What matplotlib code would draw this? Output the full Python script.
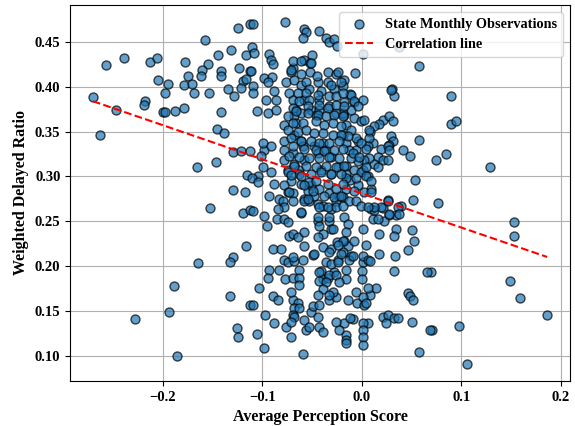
import numpy as np
import matplotlib
matplotlib.use("Agg")
import matplotlib.pyplot as plt

plt.rcParams['font.family'] = 'serif'
plt.rcParams['font.serif'] = ['Liberation Serif', 'DejaVu Serif']
plt.rcParams['font.weight'] = 'bold'

# (perception score, delayed ratio), grouped by region
left_sparse = [
    (-0.124, 0.465), (-0.112, 0.470), (-0.157, 0.452), (-0.131, 0.441), (-0.144, 0.435),
    (-0.116, 0.435), (-0.257, 0.424), (-0.239, 0.432), (-0.213, 0.428), (-0.206, 0.432),
    (-0.178, 0.428), (-0.154, 0.425), (-0.160, 0.419), (-0.174, 0.412), (-0.161, 0.412),
    (-0.141, 0.418), (-0.141, 0.412), (-0.123, 0.421), (-0.112, 0.418), (-0.119, 0.406),
    (-0.116, 0.409), (-0.205, 0.407), (-0.195, 0.403), (-0.179, 0.402), (-0.170, 0.403),
    (-0.198, 0.393), (-0.168, 0.393), (-0.153, 0.393), (-0.134, 0.398), (-0.128, 0.390),
    (-0.121, 0.399), (-0.270, 0.389), (-0.218, 0.384), (-0.219, 0.380), (-0.247, 0.374),
    (-0.200, 0.372), (-0.198, 0.372), (-0.188, 0.373), (-0.179, 0.376), (-0.141, 0.372),
    (-0.263, 0.346), (-0.145, 0.353), (-0.138, 0.348), (-0.129, 0.327), (-0.121, 0.328),
    (-0.165, 0.311), (-0.146, 0.316), (-0.115, 0.301), (-0.129, 0.285), (-0.117, 0.283),
    (-0.152, 0.265), (-0.119, 0.259), (-0.112, 0.263), (-0.116, 0.222), (-0.129, 0.210),
    (-0.132, 0.204), (-0.164, 0.203), (-0.189, 0.178), (-0.132, 0.167), (-0.112, 0.156),
    (-0.194, 0.149), (-0.228, 0.141), (-0.125, 0.131), (-0.124, 0.121), (-0.186, 0.100),
]

right_sparse = [
    (0.090, 0.390), (0.090, 0.358), (0.095, 0.362), (0.074, 0.318), (0.084, 0.325),
    (0.129, 0.311), (0.076, 0.270), (0.153, 0.249), (0.153, 0.234), (0.149, 0.183),
    (0.159, 0.164), (0.186, 0.145), (0.098, 0.133), (0.070, 0.129), (0.106, 0.091),
    (0.069, 0.193), (0.037, 0.444), (0.001, 0.436), (0.057, 0.423), (0.030, 0.397),
    (0.032, 0.390), (0.057, 0.341), (0.041, 0.329), (0.048, 0.323), (0.032, 0.298),
    (0.053, 0.296), (0.051, 0.274), (0.039, 0.267), (0.034, 0.257), (0.027, 0.257),
    (0.021, 0.265), (0.026, 0.274), (0.022, 0.250), (0.034, 0.241), (0.032, 0.233),
    (0.050, 0.240), (0.052, 0.228), (0.017, 0.236), (0.017, 0.213), (0.033, 0.211),
    (0.046, 0.218), (0.032, 0.195), (0.065, 0.193), (0.014, 0.175), (0.008, 0.168),
    (0.046, 0.170), (0.048, 0.167), (0.051, 0.162), (0.021, 0.143), (0.026, 0.145),
    (0.024, 0.136), (0.032, 0.142), (0.036, 0.142), (0.050, 0.138), (0.068, 0.129),
    (0.057, 0.104), (0.029, 0.345), (0.031, 0.340), (0.027, 0.335), (0.021, 0.363),
    (0.027, 0.367), (0.031, 0.362), (0.017, 0.358), (0.012, 0.356), (0.008, 0.350),
    (0.019, 0.331), (0.026, 0.334), (0.016, 0.322), (0.021, 0.318), (0.012, 0.314),
    (0.026, 0.318), (0.027, 0.329), (0.011, 0.337), (0.016, 0.311), (0.007, 0.320),
    (0.009, 0.264), (0.011, 0.252), (0.016, 0.252), (0.012, 0.263), (0.029, 0.396),
    (0.036, 0.266), (0.037, 0.258), (0.027, 0.258), (0.019, 0.266), (0.026, 0.273),
    (0.012, 0.266),
]

center_column = [
    (-0.007, 0.415), (-0.018, 0.407), (-0.019, 0.401), (-0.012, 0.392), (-0.008, 0.383),
    (-0.018, 0.383), (0.001, 0.385), (-0.018, 0.368), (-0.008, 0.365), (-0.001, 0.362),
    (0.002, 0.363), (0.007, 0.343), (0.006, 0.334), (-0.004, 0.340), (-0.006, 0.329),
    (0.002, 0.318), (0.001, 0.307), (0.006, 0.300), (0.009, 0.286), (-0.011, 0.391),
    (-0.008, 0.384), (-0.019, 0.371), (-0.011, 0.374), (-0.004, 0.379), (-0.016, 0.357),
    (-0.011, 0.352), (0.007, 0.352), (-0.006, 0.343), (-0.001, 0.337), (0.004, 0.331),
    (-0.016, 0.337), (-0.013, 0.329), (-0.019, 0.346), (-0.004, 0.317), (-0.011, 0.320),
    (-0.016, 0.312), (-0.008, 0.307), (-0.001, 0.305), (-0.016, 0.303), (0.004, 0.311),
    (-0.014, 0.345), (-0.009, 0.326), (-0.003, 0.322), (-0.012, 0.296), (-0.004, 0.290),
    (-0.016, 0.298), (-0.006, 0.298), (0.004, 0.300), (0.009, 0.295), (-0.016, 0.286),
    (-0.008, 0.284), (0.002, 0.283), (0.009, 0.283), (-0.019, 0.277), (-0.013, 0.273),
    (-0.006, 0.273), (-0.001, 0.267), (0.006, 0.266), (-0.018, 0.255), (-0.014, 0.247),
    (-0.016, 0.238), (-0.018, 0.228), (-0.014, 0.222), (-0.019, 0.216), (-0.011, 0.211),
    (-0.013, 0.207), (0.004, 0.224), (0.001, 0.204), (0.006, 0.176), (-0.016, 0.196),
    (-0.008, 0.228), (-0.009, 0.211), (0.001, 0.241), (0.001, 0.211), (0.006, 0.207),
    (0.008, 0.206), (0.000, 0.194), (0.000, 0.186), (-0.016, 0.186), (-0.006, 0.171),
    (-0.014, 0.162), (-0.005, 0.159), (0.001, 0.166), (0.002, 0.157), (0.004, 0.159),
    (-0.018, 0.136), (-0.009, 0.141), (-0.012, 0.142), (0.006, 0.136), (0.001, 0.136),
    (0.001, 0.129), (0.001, 0.121), (0.001, 0.112), (-0.016, 0.123), (-0.016, 0.117),
    (-0.016, 0.114),
]

cluster_upper = [
    (-0.077, 0.472), (-0.058, 0.464), (-0.056, 0.461), (-0.059, 0.454), (-0.043, 0.462),
    (-0.036, 0.454), (-0.033, 0.450), (-0.028, 0.453), (-0.025, 0.446), (-0.109, 0.470),
    (-0.110, 0.444), (-0.108, 0.438), (-0.111, 0.418), (-0.093, 0.436), (-0.091, 0.430),
    (-0.089, 0.425), (-0.058, 0.430), (-0.050, 0.435), (-0.052, 0.426), (-0.069, 0.421),
    (-0.071, 0.416), (-0.061, 0.414), (-0.052, 0.416), (-0.034, 0.416), (-0.026, 0.414),
    (-0.098, 0.410), (-0.090, 0.411), (-0.094, 0.405), (-0.088, 0.395), (-0.096, 0.385),
    (-0.086, 0.385), (-0.109, 0.401), (-0.109, 0.393), (-0.076, 0.405), (-0.068, 0.408),
    (-0.061, 0.402), (-0.056, 0.405), (-0.073, 0.393), (-0.069, 0.385), (-0.064, 0.393),
    (-0.058, 0.385), (-0.053, 0.397), (-0.044, 0.405), (-0.041, 0.395), (-0.034, 0.405),
    (-0.028, 0.397), (-0.043, 0.385), (-0.105, 0.373), (-0.094, 0.371), (-0.086, 0.374),
    (-0.066, 0.374), (-0.068, 0.367), (-0.066, 0.359), (-0.061, 0.371), (-0.051, 0.374),
    (-0.046, 0.368), (-0.043, 0.374), (-0.033, 0.379), (-0.026, 0.371), (-0.078, 0.357),
    (-0.078, 0.340), (-0.068, 0.346), (-0.061, 0.340), (-0.059, 0.334), (-0.078, 0.329),
    (-0.069, 0.326), (-0.098, 0.329), (-0.101, 0.323), (-0.112, 0.328), (-0.099, 0.311),
    (-0.091, 0.305), (-0.104, 0.300), (-0.099, 0.337), (-0.091, 0.334), (-0.078, 0.318),
    (-0.074, 0.307), (-0.068, 0.314), (-0.063, 0.307), (-0.071, 0.295), (-0.078, 0.290),
    (-0.061, 0.292), (-0.054, 0.284), (-0.051, 0.290), (-0.058, 0.318), (-0.048, 0.334),
    (-0.044, 0.326), (-0.039, 0.337), (-0.036, 0.329), (-0.031, 0.322), (-0.041, 0.307),
    (-0.031, 0.303), (-0.024, 0.311), (-0.110, 0.298), (-0.104, 0.294), (-0.088, 0.292),
    (-0.069, 0.429), (-0.061, 0.429), (-0.051, 0.426), (-0.071, 0.419), (-0.045, 0.412),
    (-0.024, 0.416), (-0.031, 0.402), (-0.021, 0.405), (-0.056, 0.393), (-0.044, 0.391),
    (-0.033, 0.390), (-0.026, 0.390), (-0.019, 0.393), (-0.063, 0.384), (-0.053, 0.385),
    (-0.054, 0.379), (-0.043, 0.380), (-0.034, 0.376), (-0.026, 0.380), (-0.018, 0.379),
    (-0.069, 0.376), (-0.066, 0.373), (-0.054, 0.371), (-0.044, 0.368), (-0.036, 0.367),
    (-0.028, 0.368), (-0.019, 0.367), (-0.074, 0.367), (-0.069, 0.359), (-0.059, 0.359),
    (-0.046, 0.362), (-0.038, 0.357), (-0.029, 0.359), (-0.021, 0.356), (-0.074, 0.352),
    (-0.064, 0.350), (-0.056, 0.352), (-0.048, 0.348), (-0.039, 0.348), (-0.029, 0.346),
    (-0.021, 0.346), (-0.071, 0.343), (-0.061, 0.339), (-0.051, 0.340), (-0.043, 0.337),
    (-0.033, 0.337), (-0.023, 0.339), (-0.069, 0.334), (-0.058, 0.331), (-0.046, 0.329),
    (-0.038, 0.328), (-0.028, 0.329), (-0.019, 0.331), (-0.073, 0.323), (-0.063, 0.322),
    (-0.053, 0.320), (-0.043, 0.320), (-0.033, 0.322), (-0.023, 0.320), (-0.068, 0.312),
    (-0.056, 0.312), (-0.046, 0.311), (-0.036, 0.312), (-0.026, 0.311), (-0.018, 0.312),
    (-0.074, 0.305), (-0.063, 0.303), (-0.051, 0.303), (-0.041, 0.305), (-0.031, 0.303),
    (-0.021, 0.303),
]

cluster_lower = [
    (-0.093, 0.278), (-0.083, 0.275), (-0.079, 0.272), (-0.074, 0.283), (-0.069, 0.282),
    (-0.078, 0.266), (-0.084, 0.264), (-0.109, 0.261), (-0.098, 0.256), (-0.095, 0.245),
    (-0.085, 0.252), (-0.078, 0.252), (-0.074, 0.249), (-0.061, 0.259), (-0.058, 0.275),
    (-0.053, 0.273), (-0.048, 0.278), (-0.044, 0.269), (-0.039, 0.267), (-0.031, 0.264),
    (-0.026, 0.272), (-0.023, 0.278), (-0.073, 0.233), (-0.069, 0.236), (-0.064, 0.232),
    (-0.058, 0.238), (-0.044, 0.250), (-0.043, 0.245), (-0.033, 0.250), (-0.031, 0.241),
    (-0.039, 0.236), (-0.044, 0.232), (-0.089, 0.219), (-0.081, 0.219), (-0.058, 0.222),
    (-0.049, 0.212), (-0.039, 0.221), (-0.031, 0.219), (-0.025, 0.227), (-0.078, 0.207),
    (-0.074, 0.205), (-0.068, 0.206), (-0.059, 0.207), (-0.036, 0.205), (-0.024, 0.207),
    (-0.093, 0.196), (-0.094, 0.187), (-0.083, 0.196), (-0.077, 0.186), (-0.069, 0.187),
    (-0.063, 0.196), (-0.063, 0.187), (-0.041, 0.194), (-0.039, 0.185), (-0.034, 0.187),
    (-0.028, 0.193), (-0.103, 0.175), (-0.109, 0.156), (-0.089, 0.167), (-0.084, 0.162),
    (-0.069, 0.162), (-0.064, 0.159), (-0.068, 0.153), (-0.063, 0.153), (-0.069, 0.145),
    (-0.068, 0.143), (-0.051, 0.149), (-0.049, 0.155), (-0.043, 0.157), (-0.044, 0.143),
    (-0.033, 0.162), (-0.026, 0.166), (-0.029, 0.171), (-0.097, 0.145), (-0.088, 0.136),
    (-0.076, 0.132), (-0.071, 0.138), (-0.058, 0.140), (-0.056, 0.129), (-0.053, 0.132),
    (-0.043, 0.132), (-0.039, 0.126), (-0.026, 0.138), (-0.023, 0.129), (-0.105, 0.124),
    (-0.098, 0.109), (-0.071, 0.121), (-0.059, 0.102),
    (-0.071, 0.301), (-0.061, 0.300), (-0.053, 0.294), (-0.046, 0.295), (-0.043, 0.286),
    (-0.034, 0.292), (-0.033, 0.281), (-0.026, 0.286), (-0.019, 0.292), (-0.058, 0.290),
    (-0.049, 0.284), (-0.038, 0.278), (-0.028, 0.277), (-0.021, 0.278), (-0.073, 0.283),
    (-0.069, 0.273), (-0.058, 0.273), (-0.054, 0.275), (-0.043, 0.266), (-0.034, 0.266),
    (-0.026, 0.266), (-0.019, 0.267), (-0.061, 0.260), (-0.044, 0.255), (-0.033, 0.255),
    (-0.029, 0.241), (-0.019, 0.228), (-0.024, 0.224), (-0.048, 0.213), (-0.033, 0.216),
    (-0.021, 0.213), (-0.031, 0.202), (-0.024, 0.205), (-0.069, 0.210), (-0.043, 0.193),
    (-0.043, 0.183), (-0.033, 0.190), (-0.036, 0.182), (-0.026, 0.190), (-0.023, 0.182),
    (-0.063, 0.179), (-0.039, 0.174), (-0.044, 0.168), (-0.071, 0.171), (-0.033, 0.168),
]

# correlation line
line_slope = -0.381
line_intercept = 0.281

points = np.array(left_sparse + right_sparse + center_column + cluster_upper + cluster_lower)
x = points[:, 0]
y = points[:, 1]

fig, ax = plt.subplots(figsize=(5.75, 4.26), dpi=100)
fig.subplots_adjust(left=0.122, right=0.991, top=0.988, bottom=0.106)

ax.scatter(x, y, s=42, color='#1f77b4', alpha=0.7, edgecolors='black',
           linewidths=1.0, label='State Monthly Observations', zorder=2)

x_line = np.array([x.min(), x.max()])
ax.plot(x_line, line_slope * x_line + line_intercept, 'r--', linewidth=1.5,
        label='Correlation line', zorder=3)

ax.set_xlabel('Average Perception Score', fontsize=11.5, fontweight='bold')
ax.set_ylabel('Weighted Delayed Ratio', fontsize=11.5, fontweight='bold')
ax.set_xticks([-0.2, -0.1, 0.0, 0.1, 0.2])
ax.tick_params(labelsize=10.5)
for lbl in ax.get_xticklabels() + ax.get_yticklabels():
    lbl.set_fontweight('bold')
ax.grid(True, zorder=0)
ax.set_axisbelow(True)
ax.legend(loc='upper right', prop={'weight': 'bold', 'size': 10.3})

fig.savefig('out.png', dpi=100)
